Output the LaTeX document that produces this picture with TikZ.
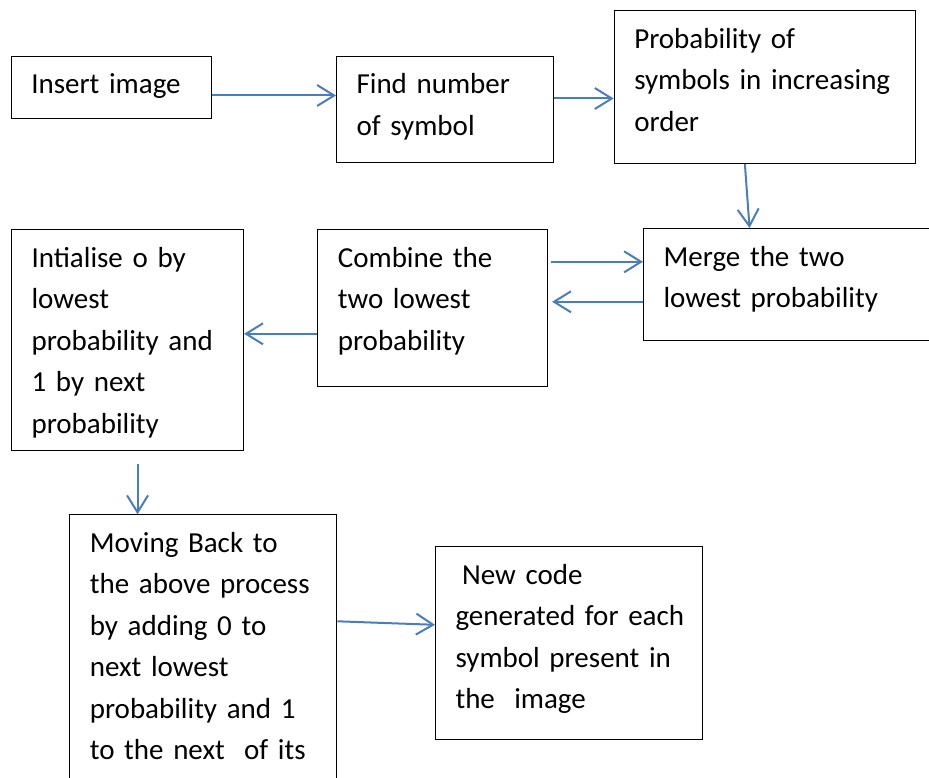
\documentclass[tikz,border=0pt]{standalone}
\usepackage{fontspec}
\setmainfont{Carlito}
\usepackage{tikz}
\usetikzlibrary{arrows.meta, positioning}
\definecolor{flowBlue}{RGB}{74, 126, 187}

\begin{document}
\begin{tikzpicture}[x=1pt, y=-1pt,
    procBox/.style={draw=black, line width=1.1pt, anchor=north west, align=left,
      inner xsep=20pt, inner ysep=0pt, text height=37.5pt,
      font=\fontsize{29}{41.5}\selectfont},
    flow/.style={flowBlue, line width=2pt, -{Straight Barb[length=17pt, width=21pt]}}]
  \useasboundingbox (0,0) rectangle (929,778);

  % Top row
  \node[procBox, text width=160pt, text depth=25pt] (ins) at (10.7,55.7) {Insert image};
  \node[procBox, text width=176.5pt, text depth=69pt] (num) at (336,55.7) {Find number\\of symbol};
  \node[procBox, text width=261.3pt, text depth=115.3pt] (prob) at (613.7,10.3)
    {Probability of\\symbols in increasing\\order};

  % Middle row
  \node[procBox, text width=252pt, text depth=74pt] (merge) at (643,228)
    {Merge the two\\lowest probability};
  \node[procBox, text width=189.7pt, text depth=119pt] (comb) at (317.3,229)
    {Combine the\\two lowest\\probability};
  \node[procBox, text width=192pt, text depth=183.3pt] (init) at (11,229)
    {Intialise o by\\lowest\\probability and\\1 by next\\probability};

  % Bottom row
  \node[procBox, text width=227pt, text depth=300pt] (move) at (69.3,514.3)
    {Moving Back to\\the above process\\by adding 0 to\\next lowest\\probability and 1\\to the next\ \ of its};
  \node[procBox, text width=226.7pt, text depth=155pt] (code) at (435,546)
    {\hspace*{6.6pt}New code\\\mbox{generated for each}\\symbol present in\\the\ \ image};

  % Arrows
  \draw[flow] ([yshift=-8pt]ins.east) -- ([yshift=-8pt]ins.east -| num.west);
  \draw[flow] ([yshift=11pt]num.east) -- ([yshift=11pt]num.east -| prob.west);
  \draw[flow] ([xshift=-20pt]prob.south) -- ([xshift=-40pt]merge.north);
  \draw[flow, shorten <=3pt] ([yshift=46pt]comb.east) -- ([yshift=46pt]comb.east -| merge.west);
  \draw[flow, shorten >=4pt] ([yshift=6pt]comb.east -| merge.west) -- ([yshift=6pt]comb.east);
  \draw[flow] ([yshift=-26pt]comb.west) -- ([yshift=-26pt]comb.west -| init.east);
  \draw[flow, shorten <=13pt] ([xshift=10pt]init.south) -- ([xshift=10pt]init.south |- move.north);
  \draw[flow] ([yshift=-107pt]move.north east) -- ([yshift=18pt]code.west);
\end{tikzpicture}
\end{document}
